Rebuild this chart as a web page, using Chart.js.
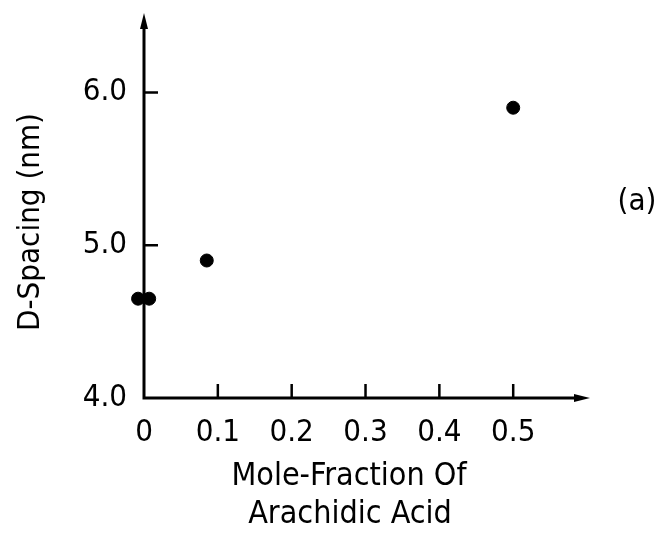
<!DOCTYPE html>
<html>
<head>
<meta charset="utf-8">
<script src="https://cdn.jsdelivr.net/npm/chart.js@4.4.1/dist/chart.umd.min.js"></script>
<style>
  html, body { margin: 0; padding: 0; background: #fff; }
  #wrap { width: 660px; height: 536px; }
</style>
</head>
<body>
<div id="wrap"><canvas id="c" width="660" height="536"></canvas></div>
<script>
// mole fraction of arachidic acid vs d-spacing (nm)
const moleFraction = [-0.008, 0.007, 0.085, 0.5];
const dSpacing = [4.65, 4.65, 4.9, 5.9];

const xTicks = [0, 0.1, 0.2, 0.3, 0.4, 0.5];
const xTickLabels = ["0", "0.1", "0.2", "0.3", "0.4", "0.5"];
const yTicks = [4, 5, 6];
const yTickLabels = ["4.0", "5.0", "6.0"];

const xTitle = ["Mole-Fraction Of", "Arachidic Acid"];
const yTitle = "D-Spacing (nm)";
const panelLabel = "(a)";

const FONT = "'DejaVu Sans Condensed', 'DejaVu Sans', sans-serif";

// axes with arrows, inward ticks, titles
const axesPlugin = {
  id: "axes",
  afterDraw(chart) {
    const ctx = chart.ctx;
    const xs = chart.scales.x;
    const ys = chart.scales.y;
    const x0 = xs.getPixelForValue(0);
    const y0 = ys.getPixelForValue(4);
    const xEnd = chart.chartArea.right;
    const yEnd = chart.chartArea.top;

    ctx.save();
    ctx.strokeStyle = "#000";
    ctx.fillStyle = "#000";
    ctx.lineWidth = 3;
    ctx.lineCap = "butt";

    ctx.beginPath();
    ctx.moveTo(x0, y0 + 1.5);
    ctx.lineTo(x0, yEnd + 10);
    ctx.moveTo(x0 - 1.5, y0);
    ctx.lineTo(xEnd - 10, y0);
    ctx.stroke();

    // arrow heads
    ctx.beginPath();
    ctx.moveTo(x0, yEnd);
    ctx.lineTo(x0 - 4, yEnd + 16);
    ctx.lineTo(x0 + 4, yEnd + 16);
    ctx.closePath();
    ctx.fill();
    ctx.beginPath();
    ctx.moveTo(xEnd, y0);
    ctx.lineTo(xEnd - 16, y0 - 4);
    ctx.lineTo(xEnd - 16, y0 + 4);
    ctx.closePath();
    ctx.fill();

    // inward ticks
    ctx.lineWidth = 2.5;
    ctx.beginPath();
    xTicks.forEach(function (v) {
      if (v === 0) return;
      const px = xs.getPixelForValue(v);
      ctx.moveTo(px, y0);
      ctx.lineTo(px, y0 - 14);
    });
    yTicks.forEach(function (v) {
      if (v === 4) return;
      const py = ys.getPixelForValue(v);
      ctx.moveTo(x0, py);
      ctx.lineTo(x0 + 14, py);
    });
    ctx.stroke();

    // titles
    ctx.textAlign = "center";
    ctx.textBaseline = "middle";
    ctx.font = "32px " + FONT;
    ctx.fillText(xTitle[0], 349, 477);
    ctx.fillText(xTitle[1], 350, 515);
    ctx.font = "31px " + FONT;
    ctx.fillText(panelLabel, 637, 202);

    ctx.translate(31, 222);
    ctx.rotate(-Math.PI / 2);
    ctx.fillText(yTitle, 0, 0);
    ctx.restore();
  }
};

new Chart(document.getElementById("c"), {
  type: "scatter",
  data: {
    datasets: [{
      data: moleFraction.map(function (x, i) { return { x: x, y: dSpacing[i] }; }),
      backgroundColor: "#000",
      borderColor: "#000",
      pointRadius: 6.5,
      pointHoverRadius: 6.5,
      clip: false
    }]
  },
  options: {
    responsive: false,
    animation: false,
    events: [],
    layout: { padding: { top: 13, right: 70, left: 0, bottom: 0 } },
    plugins: {
      legend: { display: false },
      tooltip: { enabled: false }
    },
    scales: {
      x: {
        type: "linear",
        min: 0,
        max: 0.604,
        border: { display: false },
        grid: { display: false },
        afterFit: function (s) {
          s.height = 138;
          s.paddingLeft = 0;
          s.paddingRight = 0;
        },
        afterBuildTicks: function (s) {
          s.ticks = xTicks.map(function (v) { return { value: v }; });
        },
        ticks: {
          padding: 8,
          maxRotation: 0,
          color: "#000",
          font: { family: FONT, size: 31 },
          callback: function (v) {
            const i = xTicks.indexOf(v);
            return i >= 0 ? xTickLabels[i] : "";
          }
        }
      },
      y: {
        type: "linear",
        min: 4,
        max: 6.52,
        border: { display: false },
        grid: { display: false },
        afterFit: function (s) {
          s.width = 144;
          s.paddingTop = 0;
          s.paddingBottom = 0;
        },
        afterBuildTicks: function (s) {
          s.ticks = yTicks.map(function (v) { return { value: v }; });
        },
        ticks: {
          padding: 9,
          color: "#000",
          font: { family: FONT, size: 31 },
          callback: function (v) {
            const i = yTicks.indexOf(v);
            return i >= 0 ? yTickLabels[i] : "";
          }
        }
      }
    }
  },
  plugins: [axesPlugin]
});
</script>
</body>
</html>
